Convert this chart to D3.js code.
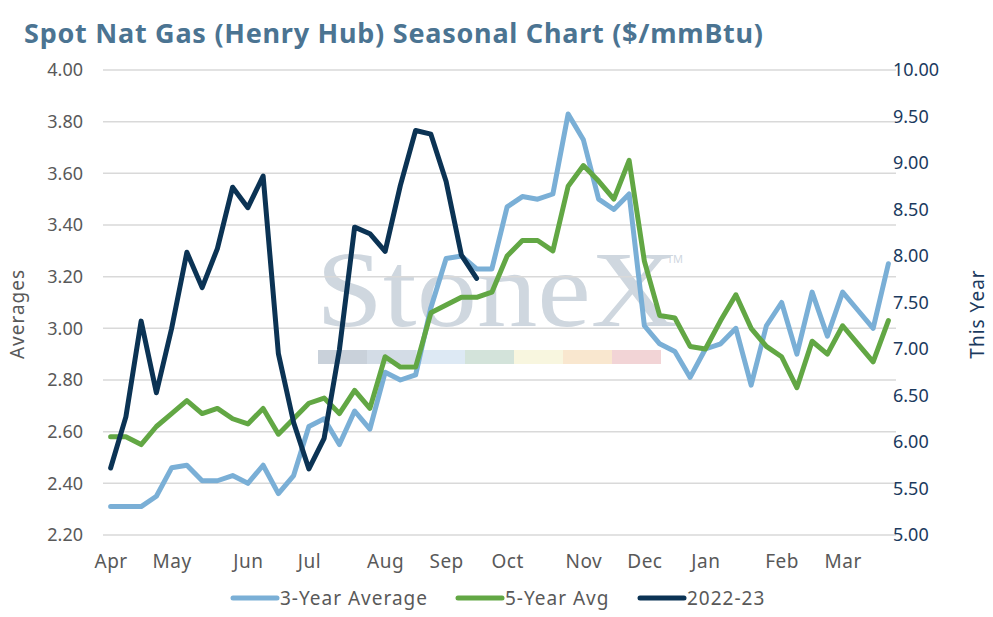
<!DOCTYPE html>
<html>
<head>
<meta charset="utf-8">
<script src="https://cdn.jsdelivr.net/npm/d3@7"></script>
<style>
  body { margin: 0; background: #ffffff; }
  svg { display: block; font-family: "Noto Sans", "DejaVu Sans", sans-serif; }
</style>
</head>
<body>
<div id="chart"></div>
<script>
// weekly points, April -> March
var monthLabels = ['Apr', 'May', 'Jun', 'Jul', 'Aug', 'Sep', 'Oct', 'Nov', 'Dec', 'Jan', 'Feb', 'Mar'];
var monthWeek = [0, 4, 9, 13, 18, 22, 26, 31, 35, 39, 44, 48];

var leftTicks = [2.20, 2.40, 2.60, 2.80, 3.00, 3.20, 3.40, 3.60, 3.80, 4.00];
var rightTicks = [5.00, 5.50, 6.00, 6.50, 7.00, 7.50, 8.00, 8.50, 9.00, 9.50, 10.00];

// 3-year average (left axis)
var avg3 = [2.31, 2.31, 2.31, 2.35, 2.46, 2.47, 2.41, 2.41, 2.43, 2.40,
            2.47, 2.36, 2.43, 2.62, 2.65, 2.55, 2.68, 2.61, 2.83, 2.80,
            2.82, 3.08, 3.27, 3.28, 3.23, 3.23, 3.47, 3.51, 3.50, 3.52,
            3.83, 3.73, 3.50, 3.46, 3.52, 3.01, 2.94, 2.91, 2.81, 2.92,
            2.94, 3.00, 2.78, 3.01, 3.10, 2.90, 3.14, 2.97, 3.14, 3.07,
            3.00, 3.25];

// 5-year average (left axis)
var avg5 = [2.58, 2.58, 2.55, 2.62, 2.67, 2.72, 2.67, 2.69, 2.65, 2.63,
            2.69, 2.59, 2.65, 2.71, 2.73, 2.67, 2.76, 2.69, 2.89, 2.85,
            2.85, 3.06, 3.09, 3.12, 3.12, 3.14, 3.28, 3.34, 3.34, 3.30,
            3.55, 3.63, 3.57, 3.50, 3.65, 3.26, 3.05, 3.04, 2.93, 2.92,
            3.03, 3.13, 3.00, 2.93, 2.89, 2.77, 2.95, 2.90, 3.01, 2.94,
            2.87, 3.03];

// 2022-23 (right axis), only through late September
var thisYear = [5.72, 6.27, 7.30, 6.53, 7.22, 8.04, 7.66, 8.08, 8.74, 8.52,
                8.86, 6.95, 6.21, 5.71, 6.04, 6.99, 8.31, 8.24, 8.05, 8.76,
                9.35, 9.31, 8.80, 8.01, 7.76];

var W = 993, H = 617;
var plot = {left: 103, right: 896, top: 70, bottom: 535};
var labelFont = '"Noto Sans", sans-serif';

var svg = d3.select('#chart').append('svg')
  .attr('width', W)
  .attr('height', H);

var weeks = d3.range(avg3.length);

var x = d3.scalePoint()
  .domain(weeks)
  .range([plot.left, plot.right])
  .padding(0.5);

var yL = d3.scaleLinear().domain([2.2, 4.0]).range([plot.bottom, plot.top]);
var yR = d3.scaleLinear().domain([5.0, 10.0]).range([plot.bottom, plot.top]);

// title
svg.append('text')
  .attr('x', 24)
  .attr('y', 43)
  .attr('font-size', 27)
  .attr('font-weight', 700)
  .attr('fill', '#4b7492')
  .attr('textLength', 739)
  .attr('lengthAdjust', 'spacing')
  .text('Spot Nat Gas (Henry Hub) Seasonal Chart ($/mmBtu)');

// watermark (background decoration)
var wm = svg.append('g').attr('class', 'watermark');
wm.append('text')
  .attr('x', 316)
  .attr('y', 326)
  .attr('font-family', '"Liberation Serif", "DejaVu Serif", serif')
  .attr('font-size', 108)
  .attr('fill', '#cfd7df')
  .attr('textLength', 362)
  .attr('lengthAdjust', 'spacingAndGlyphs')
  .text('StoneX');
wm.append('text')
  .attr('x', 667)
  .attr('y', 263)
  .attr('font-size', 11)
  .attr('fill', '#cfd7df')
  .text('TM');
var bandColors = ['#c9d1da', '#d3dce6', '#dde9f4', '#d3e3da', '#f8f6df', '#f9e7cf', '#f2d4d6'];
wm.selectAll('rect')
  .data(bandColors)
  .enter().append('rect')
  .attr('x', function (d, i) { return 318 + i * 49; })
  .attr('y', 350)
  .attr('width', 49)
  .attr('height', 14)
  .attr('fill', function (d) { return d; });

// gridlines
svg.append('g')
  .selectAll('line')
  .data(leftTicks)
  .enter().append('line')
  .attr('x1', plot.left)
  .attr('x2', plot.right)
  .attr('y1', function (d) { return yL(d); })
  .attr('y2', function (d) { return yL(d); })
  .attr('stroke', '#d9d9d9')
  .attr('stroke-width', 1.5);

// left axis
var leftAxis = svg.append('g')
  .attr('transform', 'translate(' + (plot.left - 20) + ',0)')
  .call(d3.axisLeft(yL).tickValues(leftTicks).tickSize(0).tickPadding(0).tickFormat(d3.format('.2f')));
leftAxis.select('.domain').remove();
leftAxis.selectAll('text')
  .attr('font-size', 18)
  .attr('fill', '#595959')
  .attr('font-family', labelFont);

// right axis
var rightAxis = svg.append('g')
  .attr('transform', 'translate(' + (plot.right - 3) + ',0)')
  .call(d3.axisRight(yR).tickValues(rightTicks).tickSize(0).tickPadding(0).tickFormat(d3.format('.2f')));
rightAxis.select('.domain').remove();
rightAxis.selectAll('text')
  .attr('font-size', 18)
  .attr('fill', '#1b3a5e')
  .attr('font-family', labelFont);

// month labels
var bottomAxis = svg.append('g')
  .attr('transform', 'translate(0,' + (plot.bottom + 19) + ')')
  .call(d3.axisBottom(x).tickValues(monthWeek).tickSize(0).tickPadding(0)
    .tickFormat(function (d) { return monthLabels[monthWeek.indexOf(d)]; }));
bottomAxis.select('.domain').remove();
bottomAxis.selectAll('text')
  .attr('font-size', 19)
  .attr('letter-spacing', 0.5)
  .attr('fill', '#595959')
  .attr('font-family', labelFont);

// axis titles
svg.append('text')
  .attr('transform', 'translate(24,314) rotate(-90)')
  .attr('text-anchor', 'middle')
  .attr('font-size', 19)
  .attr('letter-spacing', 1)
  .attr('fill', '#595959')
  .text('Averages');

svg.append('text')
  .attr('transform', 'translate(984,314) rotate(-90)')
  .attr('text-anchor', 'middle')
  .attr('font-size', 19)
  .attr('letter-spacing', 1)
  .attr('fill', '#1b3a5e')
  .text('This Year');

// series
var series = [
  {name: '3-Year Average', values: avg3, scale: yL, color: '#7aafd6'},
  {name: '5-Year Avg', values: avg5, scale: yL, color: '#62a744'},
  {name: '2022-23', values: thisYear, scale: yR, color: '#0b3354'}
];

series.forEach(function (s) {
  var line = d3.line()
    .x(function (d, i) { return x(i); })
    .y(function (d) { return s.scale(d); });
  svg.append('path')
    .attr('d', line(s.values))
    .attr('fill', 'none')
    .attr('stroke', s.color)
    .attr('stroke-width', 5)
    .attr('stroke-linejoin', 'round')
    .attr('stroke-linecap', 'round');
});

// legend
var legendX = [233, 458, 640];
var legend = svg.append('g');
series.forEach(function (s, i) {
  var g = legend.append('g').attr('transform', 'translate(' + legendX[i] + ',598)');
  g.append('line')
    .attr('x1', 0).attr('x2', 44)
    .attr('stroke', s.color)
    .attr('stroke-width', 5)
    .attr('stroke-linecap', 'round');
  g.append('text')
    .attr('x', 47)
    .attr('y', 7)
    .attr('font-size', 19)
    .attr('letter-spacing', 1)
    .attr('fill', '#595959')
    .text(s.name);
});
</script>
</body>
</html>
